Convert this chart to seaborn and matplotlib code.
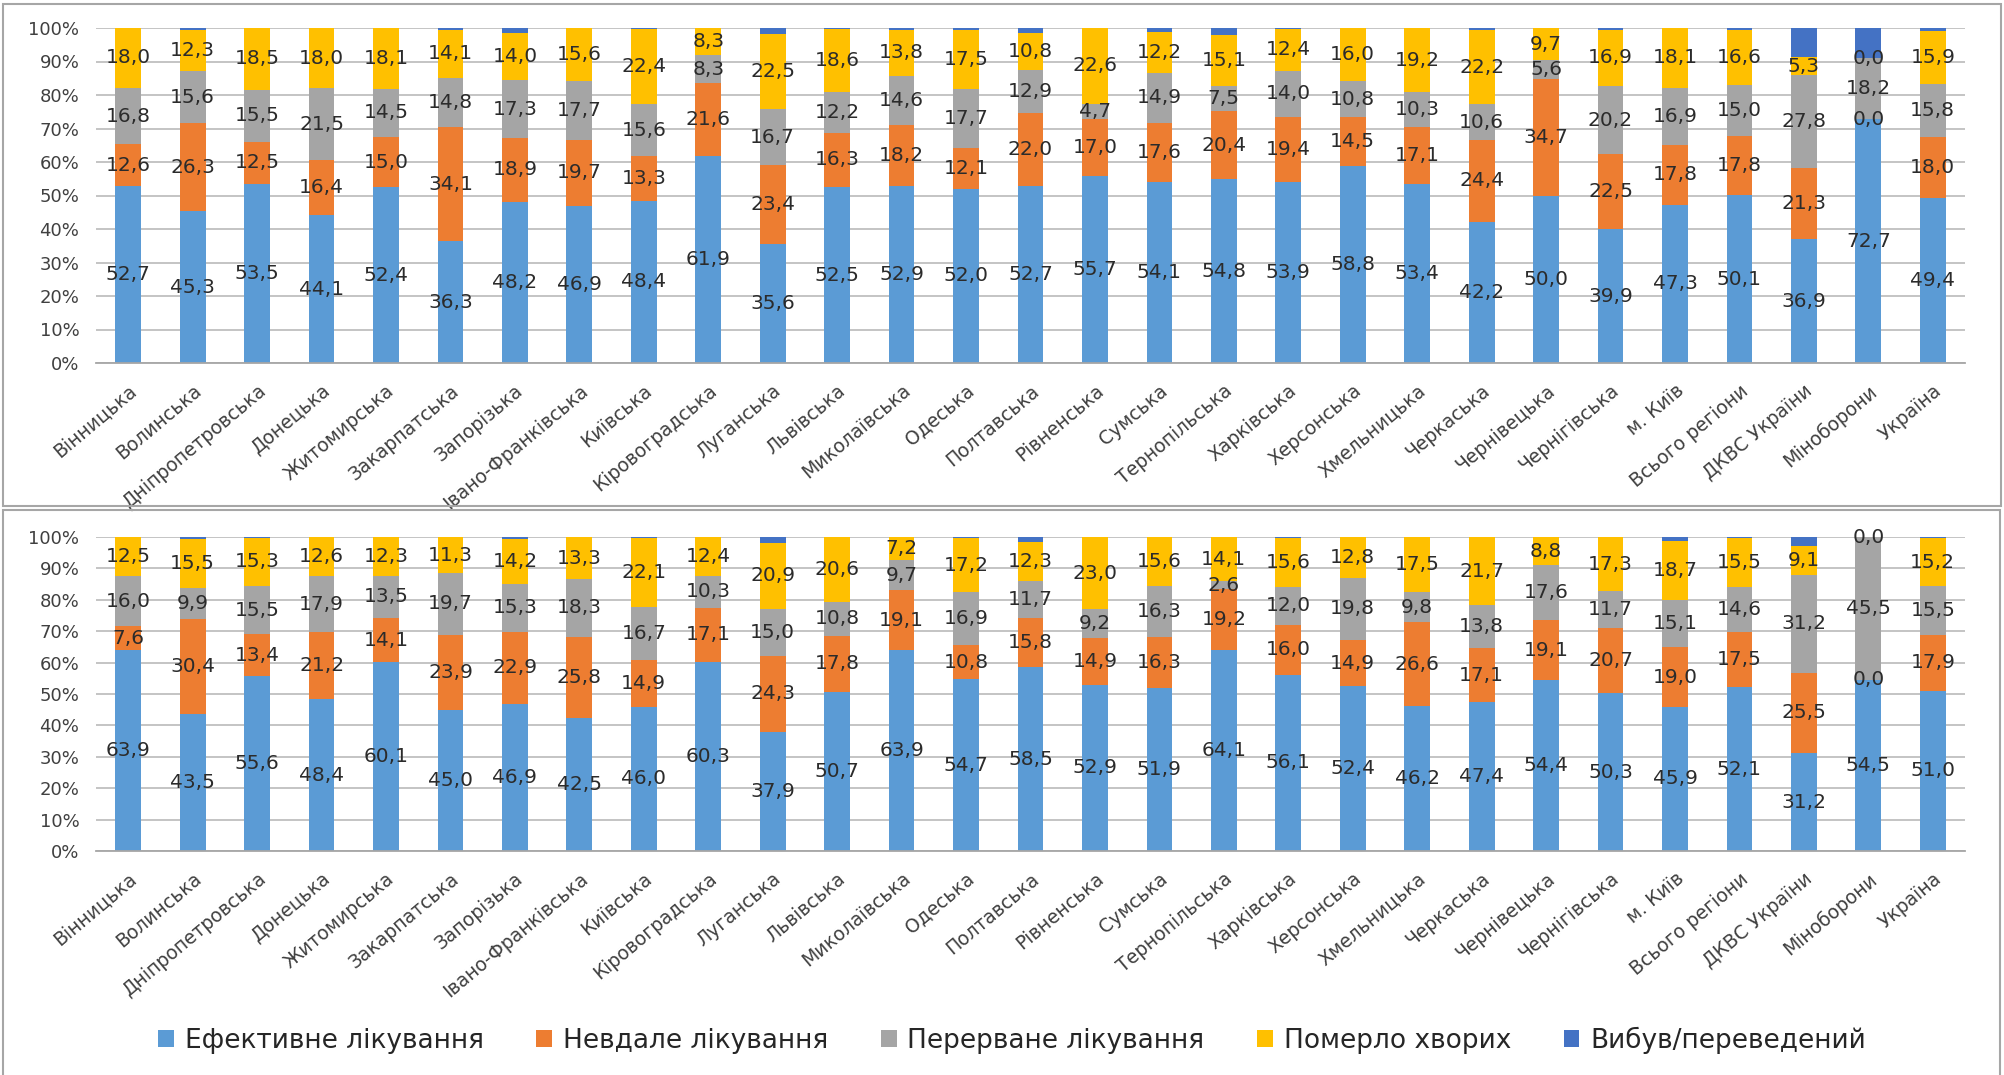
import matplotlib as mpl
import matplotlib.pyplot as plt
import seaborn as sns
import numpy as np
import pandas as pd
from matplotlib.patches import Patch, Rectangle
from matplotlib.ticker import FixedLocator

mpl.use("Agg")

sns.set_style("white")
plt.rcParams["font.family"] = ["DejaVu Sans"]

REGIONS = [
    "Вінницька", "Волинська", "Дніпропетровська", "Донецька", "Житомирська",
    "Закарпатська", "Запорізька", "Івано-Франківська", "Київська",
    "Кіровоградська", "Луганська", "Львівська", "Миколаївська", "Одеська",
    "Полтавська", "Рівненська", "Сумська", "Тернопільська", "Харківська",
    "Херсонська", "Хмельницька", "Черкаська", "Чернівецька", "Чернігівська",
    "м. Київ", "Всього регіони", "ДКВС України", "Міноборони", "Україна",
]

SERIES = ["Ефективне лікування", "Невдале лікування", "Перерване лікування",
          "Померло хворих", "Вибув/переведений"]
COLORS = ["#5B9BD5", "#ED7D31", "#A5A5A5", "#FFC000", "#4472C4"]

# top chart
top_effective = [52.7, 45.3, 53.5, 44.1, 52.4, 36.3, 48.2, 46.9, 48.4, 61.9,
                 35.6, 52.5, 52.9, 52.0, 52.7, 55.7, 54.1, 54.8, 53.9, 58.8,
                 53.4, 42.2, 50.0, 39.9, 47.3, 50.1, 36.9, 72.7, 49.4]
top_failed = [12.6, 26.3, 12.5, 16.4, 15.0, 34.1, 18.9, 19.7, 13.3, 21.6,
              23.4, 16.3, 18.2, 12.1, 22.0, 17.0, 17.6, 20.4, 19.4, 14.5,
              17.1, 24.4, 34.7, 22.5, 17.8, 17.8, 21.3, 0.0, 18.0]
top_interrupted = [16.8, 15.6, 15.5, 21.5, 14.5, 14.8, 17.3, 17.7, 15.6, 8.3,
                   16.7, 12.2, 14.6, 17.7, 12.9, 4.7, 14.9, 7.5, 14.0, 10.8,
                   10.3, 10.6, 5.6, 20.2, 16.9, 15.0, 27.8, 18.2, 15.8]
top_died = [18.0, 12.3, 18.5, 18.0, 18.1, 14.1, 14.0, 15.6, 22.4, 8.3,
            22.5, 18.6, 13.8, 17.5, 10.8, 22.6, 12.2, 15.1, 12.4, 16.0,
            19.2, 22.2, 9.7, 16.9, 18.1, 16.6, 5.3, 0.0, 15.9]
top_dropped = [0.0, 0.5, 0.0, 0.0, 0.0, 0.7, 1.6, 0.1, 0.3, 0.0,
               1.8, 0.4, 0.5, 0.7, 1.6, 0.0, 1.2, 2.2, 0.3, 0.0,
               0.0, 0.6, 0.0, 0.5, 0.0, 0.5, 8.7, 9.1, 0.9]

# bottom chart
bot_effective = [63.9, 43.5, 55.6, 48.4, 60.1, 45.0, 46.9, 42.5, 46.0, 60.3,
                 37.9, 50.7, 63.9, 54.7, 58.5, 52.9, 51.9, 64.1, 56.1, 52.4,
                 46.2, 47.4, 54.4, 50.3, 45.9, 52.1, 31.2, 54.5, 51.0]
bot_failed = [7.6, 30.4, 13.4, 21.2, 14.1, 23.9, 22.9, 25.8, 14.9, 17.1,
              24.3, 17.8, 19.1, 10.8, 15.8, 14.9, 16.3, 19.2, 16.0, 14.9,
              26.6, 17.1, 19.1, 20.7, 19.0, 17.5, 25.5, 0.0, 17.9]
bot_interrupted = [16.0, 9.9, 15.5, 17.9, 13.5, 19.7, 15.3, 18.3, 16.7, 10.3,
                   15.0, 10.8, 9.7, 16.9, 11.7, 9.2, 16.3, 2.6, 12.0, 19.8,
                   9.8, 13.8, 17.6, 11.7, 15.1, 14.6, 31.2, 45.5, 15.5]
bot_died = [12.5, 15.5, 15.3, 12.6, 12.3, 11.3, 14.2, 13.3, 22.1, 12.4,
            20.9, 20.6, 7.2, 17.2, 12.3, 23.0, 15.6, 14.1, 15.6, 12.8,
            17.5, 21.7, 8.8, 17.3, 18.7, 15.5, 9.1, 0.0, 15.2]
bot_dropped = [0.0, 0.7, 0.2, 0.0, 0.0, 0.1, 0.7, 0.1, 0.3, 0.0,
               1.9, 0.1, 0.1, 0.4, 1.7, 0.0, 0.0, 0.0, 0.3, 0.1,
               0.0, 0.0, 0.1, 0.0, 1.3, 0.3, 3.0, 0.0, 0.4]

W, H = 2004, 1075
fig = plt.figure(figsize=(W / 100, H / 100), dpi=100)


def draw_panel(ax, values):
    df = pd.DataFrame(dict(zip(SERIES, values)), index=REGIONS)
    cum = df.cumsum(axis=1)
    cum["region"] = REGIONS
    # overlay cumulative bars, tallest first
    for k in range(len(SERIES) - 1, -1, -1):
        sns.barplot(data=cum, x="region", y=SERIES[k], color=COLORS[k],
                    saturation=1, width=0.4, linewidth=0, ax=ax, zorder=2)
    # labels for first four series
    for k in range(4):
        base = cum[SERIES[k]].values - df[SERIES[k]].values
        for i, v in enumerate(df[SERIES[k]].values):
            ax.text(i, base[i] + v / 2, f"{v:.1f}".replace(".", ","),
                    ha="center", va="center", fontsize=14.5, color="#2b2b2b",
                    zorder=5)
    ax.set_ylim(0, 100)
    ax.set_xlim(-0.5, len(REGIONS) - 0.5)
    ax.set_yticks(np.arange(0, 101, 10))
    ax.set_yticklabels([f"{t}%" for t in range(0, 101, 10)], fontsize=13,
                       color="#404040")
    ax.set_xlabel("")
    ax.set_ylabel("")
    ax.set_xticks(range(len(REGIONS)))
    ax.set_xticklabels(REGIONS, rotation=40, ha="right", va="top",
                       rotation_mode="anchor", fontsize=13.5, color="#404040")
    ax.xaxis.set_minor_locator(FixedLocator(np.arange(-0.5, len(REGIONS), 1)))
    ax.tick_params(axis="x", which="major", length=0, pad=13)
    ax.tick_params(axis="x", which="minor", length=8, color="#A6A6A6",
                   width=1.2)
    ax.tick_params(axis="y", length=0, pad=12)
    ax.yaxis.grid(True, color="#BFBFBF", linewidth=1.3)
    ax.set_axisbelow(True)
    for s in ["left", "top", "right"]:
        ax.spines[s].set_visible(False)
    ax.spines["bottom"].set_color("#A6A6A6")
    ax.spines["bottom"].set_linewidth(1.3)


ax1 = fig.add_axes([96 / W, 1 - 363 / H, (1965 - 96) / W, (363 - 28) / H])
draw_panel(ax1, [top_effective, top_failed, top_interrupted, top_died,
                 top_dropped])

ax2 = fig.add_axes([96 / W, 1 - 851 / H, (1965 - 96) / W, (851 - 537) / H])
draw_panel(ax2, [bot_effective, bot_failed, bot_interrupted, bot_died,
                 bot_dropped])

# panel frames
fig.add_artist(Rectangle((3 / W, 1 - 506 / H), 1998 / W, 502 / H,
                         transform=fig.transFigure, fill=False,
                         edgecolor="#A6A6A6", linewidth=1.5))
fig.add_artist(Rectangle((3 / W, -0.01), 1997 / W, 1 - 510 / H + 0.01,
                         transform=fig.transFigure, fill=False,
                         edgecolor="#A6A6A6", linewidth=1.5))

handles = [Patch(facecolor=c, edgecolor="none") for c in COLORS]
fig.legend(handles, SERIES, loc="center", bbox_to_anchor=(0.505, 1 - 1040 / H),
           ncol=5, frameon=False, fontsize=19, handlelength=0.6,
           handleheight=0.6, handletextpad=0.4, columnspacing=2.0,
           labelcolor="#262626")

fig.savefig("out.png", dpi=100)
